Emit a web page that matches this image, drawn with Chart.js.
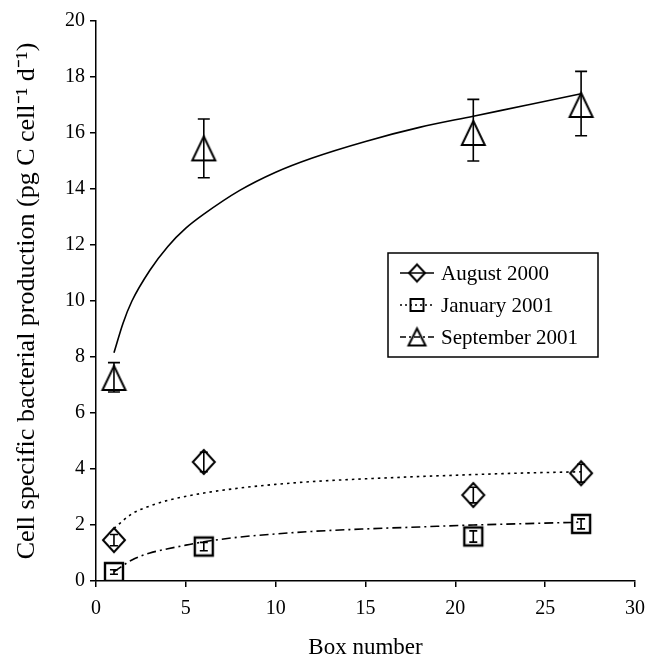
<!DOCTYPE html>
<html>
<head>
<meta charset="utf-8">
<script src="https://cdn.jsdelivr.net/npm/chart.js@4.4.0/dist/chart.umd.min.js"></script>
<style>
  body { margin: 0; background: #fff; }
</style>
</head>
<body>
<canvas id="grafico" width="648" height="657"></canvas>
<script>
// Box numbers sampled in each campaign
const boxes = [1, 6, 21, 27];

// Measured means and error bar ends (pg C cell-1 d-1)
const augValues = [1.46, 4.25, 3.07, 3.85];
const augLow = [1.26, 3.9, 2.79, 3.53];
const augHigh = [1.66, 4.6, 3.35, 4.17];

const janValues = [0.32, 1.23, 1.59, 2.04];
const janLow = [0.24, 1.08, 1.39, 1.86];
const janHigh = [0.4, 1.38, 1.79, 2.22];

const sepValues = [7.25, 15.45, 16.0, 17.0];
const sepLow = [6.75, 14.4, 15.0, 15.9];
const sepHigh = [7.8, 16.5, 17.2, 18.2];

// Trend curves
const augFitX = [1, 2, 3, 4, 6, 8, 10, 12, 15, 18, 21, 24, 27];
const augFitY = [1.88, 2.4, 2.68, 2.88, 3.14, 3.32, 3.45, 3.55, 3.65, 3.73, 3.8, 3.86, 3.9];

const janFitX = [1, 2, 3, 4, 5, 6, 8, 10, 12, 15, 18, 21, 24, 27];
const janFitY = [0.33, 0.75, 1.0, 1.15, 1.28, 1.4, 1.57, 1.68, 1.77, 1.86, 1.93, 2.0, 2.05, 2.1];

const sepFitX = [1, 1.5, 2, 3, 4, 5, 6, 8, 10, 12, 15, 18, 21, 24, 27];
const sepFitY = [8.15, 9.2, 10.0, 11.1, 11.95, 12.6, 13.1, 13.95, 14.6, 15.1, 15.7, 16.2, 16.6, 17.0, 17.4];

const labels = ['August 2000', 'January 2001', 'September 2001'];

const fonte = "'Liberation Serif', 'Times New Roman', serif";

const pares = (xs, ys) => xs.map((v, i) => ({ x: v, y: ys[i] }));

function marcador(forma, w, h, lw) {
    const c = document.createElement('canvas');
    c.width = Math.ceil(w + lw * 4);
    c.height = Math.ceil(h + lw * 4);
    const g = c.getContext('2d');
    const cx = c.width / 2, cy = c.height / 2;
    g.strokeStyle = '#000';
    g.lineWidth = lw;
    g.beginPath();
    if (forma === 'diamond') {
        g.moveTo(cx, cy - h / 2);
        g.lineTo(cx + w / 2, cy);
        g.lineTo(cx, cy + h / 2);
        g.lineTo(cx - w / 2, cy);
        g.closePath();
    } else if (forma === 'square') {
        g.rect(cx - w / 2, cy - h / 2, w, h);
    } else {
        g.moveTo(cx, cy - h / 2);
        g.lineTo(cx + w / 2, cy + h / 2);
        g.lineTo(cx - w / 2, cy + h / 2);
        g.closePath();
    }
    g.stroke();
    return c;
}

const barrasErro = {
    id: 'barrasErro',
    afterDatasetsDraw(chart) {
        const { ctx, scales: { x, y } } = chart;
        ctx.save();
        ctx.strokeStyle = '#000';
        ctx.lineWidth = 1.6;
        chart.data.datasets.forEach(ds => {
            if (!ds.errLow) return;
            ds.data.forEach((p, i) => {
                const px = x.getPixelForValue(p.x);
                const yl = y.getPixelForValue(ds.errLow[i]);
                const yh = y.getPixelForValue(ds.errHigh[i]);
                const cap = ds.capWidth;
                ctx.beginPath();
                ctx.moveTo(px, yl); ctx.lineTo(px, yh);
                ctx.moveTo(px - cap, yl); ctx.lineTo(px + cap, yl);
                ctx.moveTo(px - cap, yh); ctx.lineTo(px + cap, yh);
                ctx.stroke();
            });
        });
        ctx.restore();
    }
};

const legendaCaixa = {
    id: 'legendaCaixa',
    afterDraw(chart) {
        const ctx = chart.ctx;
        ctx.save();
        ctx.strokeStyle = '#000';
        ctx.lineWidth = 1.5;
        ctx.strokeRect(388, 253, 210, 104);
        const itens = chart.data.datasets.filter(ds => ds.legendIcon);
        itens.forEach((ds, i) => {
            const yy = 273 + i * 32;
            ctx.beginPath();
            ctx.setLineDash(ds.legendDash);
            ctx.lineWidth = 1.5;
            ctx.moveTo(400, yy);
            ctx.lineTo(434, yy);
            ctx.stroke();
            ctx.setLineDash([]);
            const img = ds.legendIcon;
            ctx.drawImage(img, 417 - img.width / 2, yy - img.height / 2);
            ctx.fillStyle = '#000';
            ctx.font = '21px ' + fonte;
            ctx.textBaseline = 'middle';
            ctx.fillText(ds.label, 441, yy + 1);
        });
        ctx.restore();
    }
};

const ctx = document.getElementById('grafico').getContext('2d');
const grafico = new Chart(ctx, {
    type: 'scatter',
    data: {
        datasets: [{
            label: 'Log. (September 2001)',
            type: 'line',
            data: pares(sepFitX, sepFitY),
            borderColor: '#000',
            borderWidth: 1.6,
            pointRadius: 0,
            fill: false,
            cubicInterpolationMode: 'monotone'
        },
        {
            label: 'Log. (August 2000)',
            type: 'line',
            data: pares(augFitX, augFitY),
            borderColor: '#000',
            borderWidth: 1.6,
            borderDash: [2.5, 4],
            pointRadius: 0,
            fill: false,
            cubicInterpolationMode: 'monotone'
        },
        {
            label: 'Log. (January 2001)',
            type: 'line',
            data: pares(janFitX, janFitY),
            borderColor: '#000',
            borderWidth: 1.6,
            borderDash: [9, 4, 2, 4],
            pointRadius: 0,
            fill: false,
            cubicInterpolationMode: 'monotone'
        },
        {
            label: labels[0],
            data: pares(boxes, augValues),
            pointStyle: marcador('diamond', 22, 24, 2),
            legendIcon: marcador('diamond', 16, 17, 2),
            legendDash: [],
            errLow: augLow,
            errHigh: augHigh,
            capWidth: 4,
            showLine: false
        },
        {
            label: labels[1],
            data: pares(boxes, janValues),
            pointStyle: marcador('square', 18, 18, 2.4),
            legendIcon: marcador('square', 13, 12, 2),
            legendDash: [2, 3],
            errLow: janLow,
            errHigh: janHigh,
            capWidth: 4,
            showLine: false
        },
        {
            label: labels[2],
            data: pares(boxes, sepValues),
            pointStyle: marcador('triangle', 23, 24, 2),
            legendIcon: marcador('triangle', 17, 17, 2),
            legendDash: [6, 3, 2, 3],
            errLow: sepLow,
            errHigh: sepHigh,
            capWidth: 6,
            showLine: false
        }]
    },
    plugins: [barrasErro, legendaCaixa],
    options: {
        responsive: false,
        animation: false,
        layout: {
            padding: { top: 21, right: 13, left: 0, bottom: 0 }
        },
        plugins: {
            legend: { display: false },
            tooltip: { enabled: false }
        },
        scales: {
            x: {
                type: 'linear',
                min: 0,
                max: 30,
                ticks: {
                    stepSize: 5,
                    color: '#000',
                    padding: 10,
                    font: { family: fonte, size: 20 }
                },
                grid: {
                    drawOnChartArea: false,
                    drawTicks: true,
                    tickLength: 6,
                    color: '#000',
                    lineWidth: 1.5
                },
                border: { color: '#000', width: 1.5 },
                title: {
                    display: true,
                    text: 'Box number',
                    color: '#000',
                    font: { family: fonte, size: 23, lineHeight: 0.75 },
                    padding: { top: 0, bottom: 0 }
                },
                afterFit: s => {
                    s.height = 76;
                    s.paddingLeft = 0;
                    s.paddingRight = 0;
                }
            },
            y: {
                min: 0,
                max: 20,
                ticks: {
                    stepSize: 2,
                    color: '#000',
                    padding: 5,
                    font: { family: fonte, size: 20 }
                },
                grid: {
                    drawOnChartArea: false,
                    drawTicks: true,
                    tickLength: 6,
                    color: '#000',
                    lineWidth: 1.5
                },
                border: { color: '#000', width: 1.5 },
                title: {
                    display: true,
                    text: 'Cell specific bacterial production (pg C cell\u207B\u00B9 d\u207B\u00B9)',
                    color: '#000',
                    font: { family: fonte, size: 26, lineHeight: 1.2 },
                    padding: { top: 12, bottom: 0 }
                },
                afterFit: s => { s.width = 96; }
            }
        }
    }
});
</script>
</body>
</html>
